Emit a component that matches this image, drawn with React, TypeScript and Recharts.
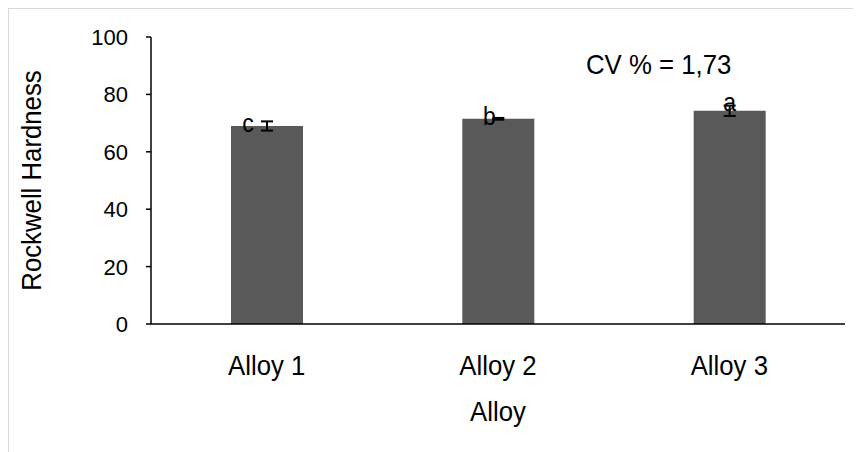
import React from "react";
import {
  BarChart,
  Bar,
  XAxis,
  YAxis,
  ErrorBar,
  LabelList,
} from "recharts";

const alloys = ["Alloy 1", "Alloy 2", "Alloy 3"];
const hardness = [69.0, 71.5, 74.3];
const hardnessError = [1.6, 0.3, 1.8];
const groupLetters = ["c", "b", "a"];
const yTicks = [0, 20, 40, 60, 80, 100];
const cvText = "CV % = 1,73";

const FONT = '"Liberation Sans", Arial, sans-serif';
const SQ = 0.92; // source text is slightly condensed

// letter placement next to each error bar (as in the source figure)
const letterShift = [
  { dx: -19, dy: 6 },
  { dx: -9, dy: 6 },
  { dx: 0, dy: 0 },
];

function SText({ x, y, size, anchor = "middle", rotate = 0, children }: any) {
  return (
    <g transform={`translate(${x},${y}) rotate(${rotate}) scale(${SQ},1)`}>
      <text x={0} y={0} textAnchor={anchor} fontFamily={FONT} fontSize={size} fill="#000">
        {children}
      </text>
    </g>
  );
}

function LetterLabel(props: any) {
  const { x, y, width, value, index } = props;
  const s = letterShift[index] || { dx: 0, dy: 0 };
  return (
    <SText x={x + width / 2 + s.dx} y={y + s.dy} size={25}>
      {value}
    </SText>
  );
}

function XTick(props: any) {
  const { x, y, payload } = props;
  return (
    <SText x={x} y={y + 49} size={28}>
      {payload.value}
    </SText>
  );
}

function YTick(props: any) {
  const { x, y, payload } = props;
  return (
    <text x={x - 16} y={y + 8} textAnchor="end" fontFamily={FONT} fontSize={22} fill="#000">
      {payload.value}
    </text>
  );
}

function YTitle(props: any) {
  const { viewBox } = props;
  const cy = viewBox.y + viewBox.height / 2;
  return (
    <SText x={32} y={cy} size={28} rotate={-90}>
      Rockwell Hardness
    </SText>
  );
}

function XTitle(props: any) {
  const { viewBox } = props;
  return (
    <SText x={viewBox.x + viewBox.width / 2} y={412} size={28}>
      Alloy
    </SText>
  );
}

export default function App() {
  const data = alloys.map((name, i) => ({
    name,
    value: hardness[i],
    err: hardnessError[i],
    letter: groupLetters[i],
  }));

  return (
    <div
      style={{
        position: "relative",
        width: 853,
        height: 444,
        borderLeft: "1px solid #d9d9d9",
        borderTop: "1px solid #d9d9d9",
        boxSizing: "border-box",
        fontFamily: FONT,
      }}
    >
      <BarChart
        width={852}
        height={443}
        data={data}
        margin={{ top: 28, right: 16, left: 0, bottom: 0 }}
        barSize={72}
      >
        <XAxis
          dataKey="name"
          height={128}
          axisLine={{ stroke: "#000", strokeWidth: 1.5 }}
          tickLine={false}
          tickSize={0}
          tick={<XTick />}
          label={<XTitle />}
        />
        <YAxis
          domain={[0, 100]}
          ticks={yTicks}
          width={142}
          axisLine={{ stroke: "#000", strokeWidth: 1.5 }}
          tickLine={{ stroke: "#000", strokeWidth: 1.5 }}
          tickSize={5}
          tick={<YTick />}
          label={<YTitle />}
        />
        <Bar dataKey="value" fill="#595959" isAnimationActive={false}>
          <ErrorBar
            dataKey="err"
            direction="y"
            width={6}
            stroke="#000"
            strokeWidth={2}
            isAnimationActive={false}
          />
          <LabelList dataKey="letter" content={LetterLabel} />
        </Bar>
      </BarChart>
      <div
        style={{
          position: "absolute",
          left: 577,
          top: 42,
          fontSize: 28,
          lineHeight: "28px",
          color: "#000",
          whiteSpace: "nowrap",
          transform: `scaleX(${SQ})`,
          transformOrigin: "left top",
        }}
      >
        {cvText}
      </div>
    </div>
  );
}
